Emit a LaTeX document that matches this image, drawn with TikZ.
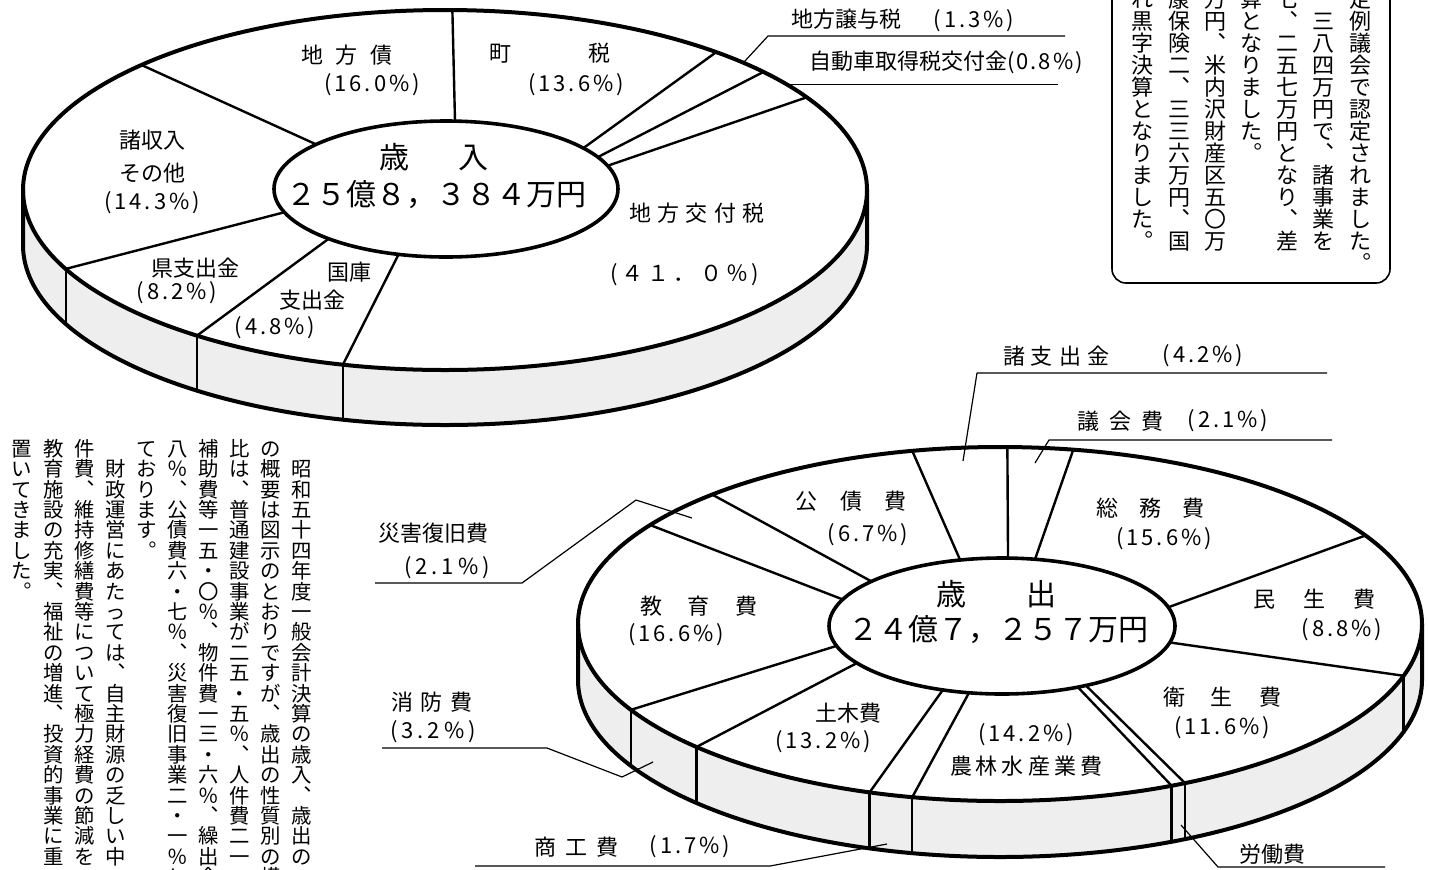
\documentclass[tikz,border=0pt]{standalone}
\usepackage{fontspec}
\setmainfont{Noto Sans CJK JP}
\usetikzlibrary{calc}

\ExplSyntaxOn
\cs_generate_variant:Nn \tl_map_inline:nn {o}
\NewDocumentCommand\spaced{mm}{\tl_map_inline:nn{#2}{##1\hspace{#1}}\unskip}
\NewDocumentCommand\tate{m}{\vbox{\offinterlineskip
  \tl_map_inline:on{#1}{\hbox_to_wd:nn{1em}{\vrule height0.88em depth0.12em width0pt\hss##1\hss}}}}
\ExplSyntaxOff

\tikzset{
  rim/.style={line width=2pt},
  hub/.style={line width=1.8pt,fill=white},
  divider/.style={line width=1.2pt},
  side/.style={fill=gray!13},
  leader/.style={line width=0.6pt},
  lbl/.style={font=\fontsize{11}{13}\selectfont,inner sep=0pt},
  big/.style={font=\fontsize{15}{18}\selectfont,inner sep=0pt},
  column/.style={anchor=north,inner sep=0pt},
}

\begin{document}
\begin{tikzpicture}[x=0.5pt,y=-0.5pt,line join=round]
\useasboundingbox (0,0) rectangle (1429,869);

% Revenue pie
\coordinate (outA) at (445,190);
\coordinate (inA) at (446,189);
\fill[side] ($(outA)+(0:422 and 180)$) arc[start angle=0,end angle=180,x radius=422,y radius=180]
  -- ++(0,55) arc[start angle=180,end angle=0,x radius=422,y radius=180] -- cycle;
\foreach \a/\b in {-87/-89,-37/-50,-28/-41,-20/-31,106/104,133/126,160/154,-139/-136}
  \draw[divider] ($(inA)+(\a:172 and 68)$) -- ($(outA)+(\b:422 and 180)$);
\foreach \b in {104,126,154}
  \draw[divider] ($(outA)+(\b:422 and 180)$) -- ++(0,55);
\draw[rim] (outA) ellipse[x radius=422,y radius=180];
\draw[rim] ($(outA)+(0:422 and 180)$) -- ++(0,55)
  arc[start angle=0,end angle=180,x radius=422,y radius=180] -- ++(0,-55);
\draw[hub] (inA) ellipse[x radius=172,y radius=68];

% Revenue labels
\node[big] (sainyu) at (434,157) {歳\hspace{25pt}入};
\node[big] (sainyuV) at (436,195) {２５億８，３８４万円};
\node[lbl] (chihosai) at (347,55) {\spaced{6.5pt}{地方債}};
\node[lbl] at (372,85) {\spaced{1.5pt}{(16.0\%)}};
\node[lbl] (chozei) at (550,53) {町\hspace{38.5pt}税};
\node[lbl] at (576,85) {\spaced{1.5pt}{(13.6\%)}};
\node[lbl] (shoshu) at (152,140) {諸収入};
\node[lbl] at (152,173) {その他};
\node[lbl] at (152,203) {\spaced{1.5pt}{(14.3\%)}};
\node[lbl] (kofuzei) at (697,213) {\spaced{3.2pt}{地方交付税}};
\node[lbl] at (685,275) {\spaced{2pt}{(４１．０％)}};
\node[lbl] (kenshi) at (195,268) {県支出金};
\node[lbl] at (177,293) {\spaced{1.5pt}{(8.2\%)}};
\node[lbl] (kokko) at (349,272) {国庫};
\node[lbl] at (312,300) {支出金};
\node[lbl] at (275,328) {\spaced{1.5pt}{(4.8\%)}};

% Revenue leaders
\coordinate (jyoyo) at ($(outA)+(-45:422 and 180)$);
\coordinate (jidosha) at ($(outA)+(-36:422 and 180)$);
\node[lbl] (jyoyoL) at (903,20) {地方譲与税\hspace{16pt}\spaced{1.5pt}{(1.3\%)}};
\node[lbl] (jidoshaL) at (946,62) {自動車取得税交付金\spaced{1pt}{(0.8\%)}};
\draw[leader] (jyoyo) -- (768,36) -- (1065,36);
\draw[leader] (jidosha) -- ++(272,0);

% Expenditure pie
\coordinate (outB) at (1000,624);
\coordinate (inB) at (1002,626);
\fill[side] ($(outB)+(0:422 and 177)$) arc[start angle=0,end angle=180,x radius=422,y radius=177]
  -- ++(0,56) arc[start angle=180,end angle=0,x radius=422,y radius=177] -- cycle;
\foreach \a/\b in {-104/-102,-88/-89,-79/-80,-16/-30,14/17,64/66,61/64,101/102,110/108,147/136,163/151,-157/-146,-139/-133}
  \draw[divider] ($(inB)+(\a:173 and 68)$) -- ($(outB)+(\b:422 and 177)$);
\foreach \b in {17,64,66,102,108,136,151}
  \draw[divider] ($(outB)+(\b:422 and 177)$) -- ++(0,56);
\draw[rim] (outB) ellipse[x radius=422,y radius=177];
\draw[rim] ($(outB)+(0:422 and 177)$) -- ++(0,56)
  arc[start angle=0,end angle=180,x radius=422,y radius=177] -- ++(0,-56);
\draw[hub] (inB) ellipse[x radius=173,y radius=68];

% Expenditure labels
\node[big] (saishutsu) at (996,594) {歳\hspace{30pt}出};
\node[big] (saishutsuV) at (998,630) {２４億７，２５７万円};
\node[lbl] (kosai) at (851,501) {\spaced{11.5pt}{公債費}};
\node[lbl] at (868,535) {\spaced{1.5pt}{(6.7\%)}};
\node[lbl] (somu) at (1150,508) {\spaced{10.5pt}{総務費}};
\node[lbl] at (1164,539) {\spaced{1.5pt}{(15.6\%)}};
\node[lbl] (minsei) at (1314,599) {\spaced{14pt}{民生費}};
\node[lbl] at (1342,630) {\spaced{1.5pt}{(8.8\%)}};
\node[lbl] (eisei) at (1222,697) {\spaced{13pt}{衛生費}};
\node[lbl] at (1222,728) {\spaced{1.5pt}{(11.6\%)}};
\node[lbl] at (1026,735) {\spaced{1.5pt}{(14.2\%)}};
\node[lbl] (norin) at (1026,766) {\spaced{2pt}{農林水産業費}};
\node[lbl] (doboku) at (848,713) {土木費};
\node[lbl] at (823,742) {\spaced{1.5pt}{(13.2\%)}};
\node[lbl] (kyoiku) at (699,606) {\spaced{13pt}{教育費}};
\node[lbl] at (676,635) {\spaced{1.5pt}{(16.6\%)}};

% Expenditure leaders
\node[lbl] (shoshiL) at (1056,356) {\spaced{3pt}{諸支出金}};
\node[lbl] at (1203,356) {\spaced{1.5pt}{(4.2\%)}};
\node[lbl] (gikaiL) at (1120,421) {\spaced{5pt}{議会費}};
\node[lbl] at (1228,421) {\spaced{1.5pt}{(2.1\%)}};
\node[lbl] (saigaiL) at (433,533) {災害復旧費};
\node[lbl] at (447,568) {\spaced{2pt}{(2.1\%)}};
\node[lbl] (shoboL) at (432,702) {\spaced{4pt}{消防費}};
\node[lbl] at (433,732) {\spaced{2pt}{(3.2\%)}};
\node[lbl] (shokoL) at (576,847) {\spaced{4.5pt}{商工費}};
\node[lbl] at (690,847) {\spaced{1.5pt}{(1.7\%)}};
\node[lbl] (rodoL) at (1272,854) {労働費};
\coordinate (shoshi) at (963,461);
\coordinate (gikai) at (1035,463);
\coordinate (saigai) at (692,518);
\coordinate (shobo) at (653,762);
\coordinate (shoko) at (887,844);
\coordinate (rodo) at (1181,825);
\draw[leader] (shoshi) -- (977,373) -- (1327,373);
\draw[leader] (gikai) -- (1049,440) -- (1332,440);
\draw[leader] (saigai) -- (636,500) -- (522,583) -- (375,583);
\draw[leader] (shobo) -- (622,777) -- (547,748) -- (382,748);
\draw[leader] (shoko) -- (770,866) -- (475,866);
\draw[leader] (rodo) -- (1218,867) -- (1385,867);

% Note box
\draw[line width=0.8pt,rounded corners=7pt] (1112,-20) -- (1112,283) -- (1390,283) -- (1390,-20);
\foreach \t [count=\i] in {定例議会で認定されました︒,︑三八四万円で︑諸事業を,七︑二五七万円となり︑差,算となりました︒,万円︑米内沢財産区五〇万,康保険二︑三三六万円︑国,れ黒字決算となりました︒}
  \node[column,font=\fontsize{11}{13}\selectfont] at ({1360-36.2*(\i-1)},-12) {\tate{\t}};

% Body text
\foreach \t [count=\i] in {　昭和五十四年度一般会計決算の歳入︑歳出の,の概要は図示のとおりですが︑歳出の性質別の構,比は︑普通建設事業が二五・五％︑人件費二一・,補助費等一五・〇％︑物件費一三・六％︑繰出金,八％︑公債費六・七％︑災害復旧事業二・一％と,ております︒,　財政運営にあたっては︑自主財源の乏しい中,件費︑維持修繕費等について極力経費の節減を,教育施設の充実︑福祉の増進︑投資的事業に重,置いてきました︒}
  \node[column,font=\fontsize{10.2}{12}\selectfont] at ({302-31.1*(\i-1)},438) {\tate{\t}};
\end{tikzpicture}
\end{document}
